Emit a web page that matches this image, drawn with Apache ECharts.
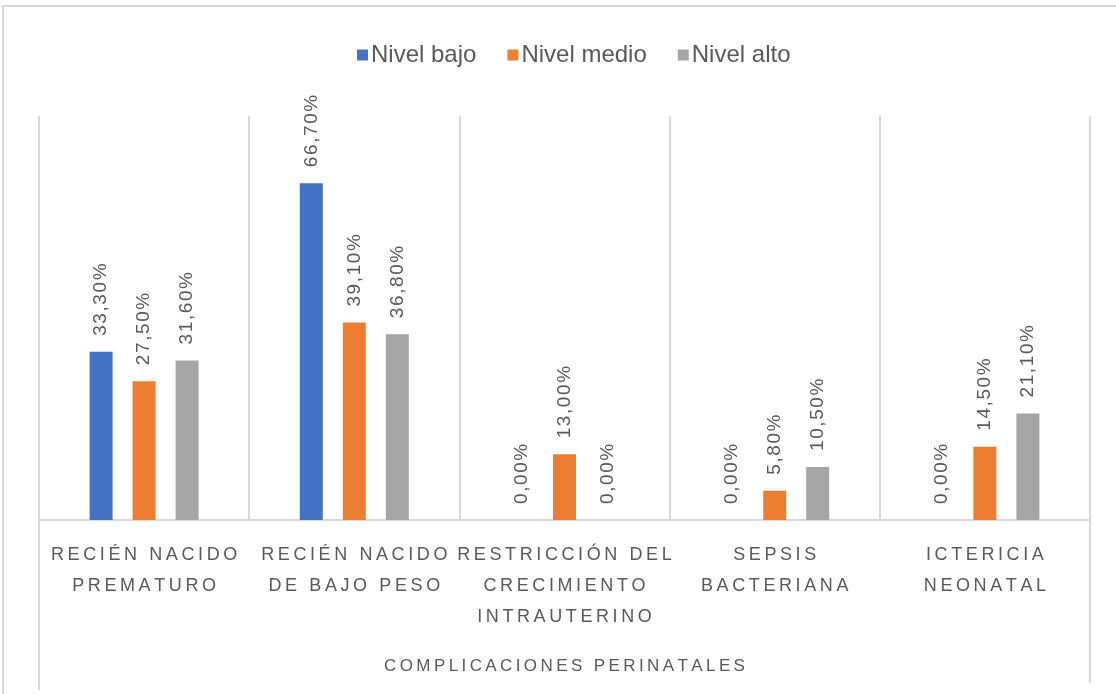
<!DOCTYPE html>
<html><head><meta charset="utf-8">
<script src="https://cdn.jsdelivr.net/npm/echarts@6/dist/echarts.min.js"></script>
<style>html,body{margin:0;padding:0;background:#fff}#c{width:1116px;height:694px}</style>
</head><body><div id="c"></div>
<script>
const categories = ['RECIÉN NACIDO\nPREMATURO', 'RECIÉN NACIDO\nDE BAJO PESO', 'RESTRICCIÓN DEL\nCRECIMIENTO\nINTRAUTERINO', 'SEPSIS\nBACTERIANA', 'ICTERICIA\nNEONATAL'];
const seriesNames = ['Nivel bajo', 'Nivel medio', 'Nivel alto'];
const nivelBajo = [33.3, 66.7, 0, 0, 0];
const nivelMedio = [27.5, 39.1, 13.0, 5.8, 14.5];
const nivelAlto = [31.6, 36.8, 0, 10.5, 21.1];
const axisName = 'COMPLICACIONES PERINATALES';
const colors = ['#4472C4', '#ED7D31', '#A5A5A5'];

const spaced = (s, sp) => s.split('\n').map(l => Array.from(l).join(sp)).join('\n');
const fmt = v => spaced(v.toFixed(2).replace('.', ',') + '%', '\u200A');

const chart = echarts.init(document.getElementById('c'));
const G = {left: 39, right: 26, top: 116, bottom: 174};
const FF = 'Liberation Sans, Arial, sans-serif';
const mk = (name, data, i) => ({
  name, type: 'bar', data, barWidth: 23, barGap: '87%',
  itemStyle: {color: colors[i]},
  label: {show: true, position: 'top', rotate: 90, align: 'left', verticalAlign: 'middle', distance: 16,
    color: '#595959', fontSize: 19, fontFamily: FF,
    formatter: p => fmt(p.value)}
});
chart.setOption({
  animation: false,
  backgroundColor: '#fff',
  color: colors,
  legend: {top: 38, left: 352, itemWidth: 11, itemHeight: 11, itemGap: 31, icon: 'rect',
    textStyle: {color: '#595959', fontSize: 24, fontFamily: FF, padding: [0, 0, 0, -2]},
    data: seriesNames},
  grid: G,
  xAxis: {type: 'category', data: categories,
    axisLine: {lineStyle: {color: '#d9d9d9', width: 2}},
    axisTick: {show: false},
    splitLine: {show: true, lineStyle: {color: '#d9d9d9', width: 2}},
    axisLabel: {interval: 0, margin: 20, color: '#595959', fontSize: 18, lineHeight: 31,
      fontFamily: FF,
      formatter: v => spaced(v, '\u2009')},
    name: spaced(axisName, '\u2009'), nameLocation: 'middle', nameGap: 138,
    nameTextStyle: {color: '#595959', fontSize: 17, fontFamily: FF}
  },
  yAxis: {type: 'value', min: 0, max: 80, show: false, splitLine: {show: false}},
  series: [mk(seriesNames[0], nivelBajo, 0), mk(seriesNames[1], nivelMedio, 1), mk(seriesNames[2], nivelAlto, 2)],
  graphic: [
    {type: 'rect', shape: {x: 3, y: 6, width: 1130, height: 710}, style: {fill: 'none', stroke: '#d9d9d9', lineWidth: 2}, z: -1},
    {type: 'line', shape: {x1: 39, y1: 116, x2: 39, y2: 690}, style: {stroke: '#d9d9d9', lineWidth: 2}},
    {type: 'line', shape: {x1: 1090, y1: 116, x2: 1090, y2: 683}, style: {stroke: '#d9d9d9', lineWidth: 2}}
  ]
});
</script></body></html>
